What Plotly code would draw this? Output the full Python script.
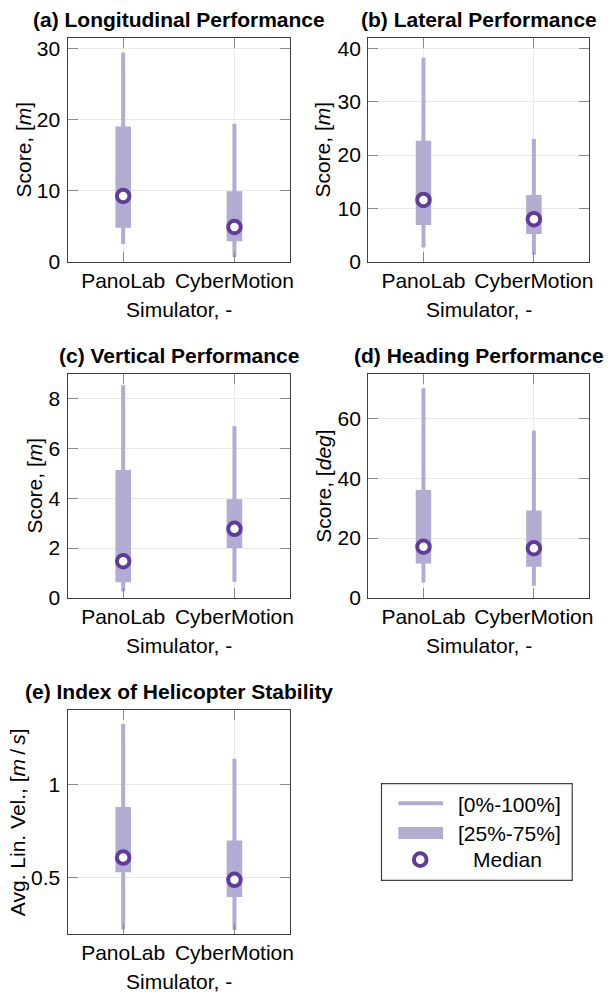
import plotly.graph_objects as go

# ---------------- data ----------------
simulators = ["PanoLab", "CyberMotion"]

# (a) Longitudinal Performance, Score [m]
long_min = [2.5, 0.65]
long_q1 = [4.8, 2.9]
long_med = [9.25, 4.9]
long_q3 = [19.0, 9.9]
long_max = [29.4, 19.4]

# (b) Lateral Performance, Score [m]
lat_min = [2.7, 1.35]
lat_q1 = [6.9, 5.2]
lat_med = [11.6, 8.0]
lat_q3 = [22.7, 12.5]
lat_max = [38.2, 23.0]

# (c) Vertical Performance, Score [m]
vert_min = [0.25, 0.64]
vert_q1 = [0.62, 2.0]
vert_med = [1.47, 2.77]
vert_q3 = [5.13, 3.96]
vert_max = [8.54, 6.89]

# (d) Heading Performance, Score [deg]
head_min = [5.1, 4.0]
head_q1 = [11.5, 10.4]
head_med = [17.1, 16.6]
head_q3 = [36.1, 29.2]
head_max = [70.2, 56.0]

# (e) Index of Helicopter Stability, Avg. Lin. Vel. [m/s]
stab_min = [0.223, 0.22]
stab_q1 = [0.530, 0.397]
stab_med = [0.608, 0.489]
stab_q3 = [0.879, 0.699]
stab_max = [1.324, 1.138]

titles = [
    "(a) Longitudinal Performance",
    "(b) Lateral Performance",
    "(c) Vertical Performance",
    "(d) Heading Performance",
    "(e) Index of Helicopter Stability",
]
ylabels = [
    "Score, [<i>m</i>]",
    "Score, [<i>m</i>]",
    "Score, [<i>m</i>]",
    "Score, [<i>deg</i>]",
    "Avg. Lin. Vel., [<i>m</i>\u2009/\u2009<i>s</i>]",
]
xlabel = "Simulator, -"
legend_labels = ["[0%-100%]", "[25%-75%]", "Median"]

# ---------------- style ----------------
W, H = 608, 1007
LIGHT = "#b2abd2"
DARK = "#5e3c99"
FONT = "Liberation Sans, Arial, Helvetica, sans-serif"
FS = 21

panels = [
    dict(mn=long_min, q1=long_q1, md=long_med, q3=long_q3, mx=long_max,
         rng=[0, 31.5], dtick=10, px=(68, 292), py=(37, 264), ylab_x=24),
    dict(mn=lat_min, q1=lat_q1, md=lat_med, q3=lat_q3, mx=lat_max,
         rng=[0, 42], dtick=10, px=(370.7, 593), py=(37, 264), ylab_x=325),
    dict(mn=vert_min, q1=vert_q1, md=vert_med, q3=vert_q3, mx=vert_max,
         rng=[0, 9], dtick=2, px=(68, 292), py=(377.3, 604), ylab_x=35),
    dict(mn=head_min, q1=head_q1, md=head_med, q3=head_q3, mx=head_max,
         rng=[0, 75], dtick=20, px=(370.7, 593), py=(377.3, 604), ylab_x=326),
    dict(mn=stab_min, q1=stab_q1, md=stab_med, q3=stab_q3, mx=stab_max,
         rng=[0.2, 1.4], dtick=None, px=(68, 292), py=(717.3, 944), ylab_x=17.5),
]

fig = go.Figure()
annotations = []
layout = {}

for i, p in enumerate(panels):
    k = "" if i == 0 else str(i + 1)
    xa, ya = "x" + k, "y" + k
    # whisker (min-max)
    fig.add_trace(go.Bar(
        x=simulators, y=[b - a for a, b in zip(p["mn"], p["mx"])], base=p["mn"],
        width=0.036, marker=dict(color=LIGHT, line=dict(width=0)),
        xaxis=xa, yaxis=ya, hoverinfo="skip"))
    # interquartile box
    fig.add_trace(go.Bar(
        x=simulators, y=[b - a for a, b in zip(p["q1"], p["q3"])], base=p["q1"],
        width=0.14, marker=dict(color=LIGHT, line=dict(width=0)),
        xaxis=xa, yaxis=ya, hoverinfo="skip"))
    # median
    fig.add_trace(go.Scatter(
        x=simulators, y=p["md"], mode="markers",
        marker=dict(symbol="circle", size=12.5, color="white",
                    line=dict(color=DARK, width=4)),
        xaxis=xa, yaxis=ya, hoverinfo="skip"))

    x0, x1 = p["px"]
    y0, y1 = p["py"]
    common = dict(
        showline=True, linecolor="#404040", linewidth=1.3, mirror="allticks",
        ticks="inside", ticklen=10, tickcolor="#8a8a8a", tickwidth=1,
        showgrid=True, gridcolor="#e8e8e8", gridwidth=1.2, zeroline=False,
        tickfont=dict(family=FONT, size=FS, color="black"),
    )
    layout["xaxis" + k] = dict(
        common, type="category", categoryorder="array", categoryarray=simulators,
        range=[-0.5, 1.5], domain=[x0 / W, x1 / W], anchor=ya,
        ticklabelstandoff=0)
    yax = dict(common, range=p["rng"], domain=[1 - y1 / H, 1 - y0 / H],
               anchor=xa, ticklabelstandoff=2)
    if p["dtick"] is not None:
        yax.update(tickmode="linear", tick0=0, dtick=p["dtick"])
    else:
        yax.update(tickmode="array", tickvals=[0.5, 1], ticktext=["0.5", "1"])
    layout["yaxis" + k] = yax

    cx = (x0 + x1) / 2 / W
    # panel title
    annotations.append(dict(
        text="<b>" + titles[i] + "</b>", x=cx, y=1 - (y0 - 18.5) / H,
        xref="paper", yref="paper", xanchor="center", yanchor="middle",
        showarrow=False, font=dict(family=FONT, size=FS, color="black")))
    # x label
    annotations.append(dict(
        text=xlabel, x=cx, y=1 - (y1 + 48) / H,
        xref="paper", yref="paper", xanchor="center", yanchor="middle",
        showarrow=False, font=dict(family=FONT, size=FS, color="black")))
    # y label
    annotations.append(dict(
        text=ylabels[i], x=p["ylab_x"] / W, y=1 - (y0 + y1) / 2 / H,
        xref="paper", yref="paper", xanchor="center", yanchor="middle",
        textangle=-90, showarrow=False,
        font=dict(family=FONT, size=FS, color="black")))

# ---------------- manual legend ----------------
def px2x(v):
    return v / W

def px2y(v):
    return 1 - v / H

shapes = [
    dict(type="rect", xref="paper", yref="paper",
         x0=px2x(384), x1=px2x(576), y0=px2y(890), y1=px2y(792),
         line=dict(color="#404040", width=1.2), fillcolor="white", layer="below"),
    dict(type="line", xref="paper", yref="paper",
         x0=px2x(401), x1=px2x(446), y0=px2y(812), y1=px2y(812),
         line=dict(color=LIGHT, width=4)),
    dict(type="rect", xref="paper", yref="paper",
         x0=px2x(401), x1=px2x(446), y0=px2y(848), y1=px2y(836),
         line=dict(width=0), fillcolor=LIGHT),
    dict(type="circle", xref="paper", yref="paper",
         xsizemode="pixel", ysizemode="pixel",
         xanchor=px2x(423), yanchor=px2y(869),
         x0=-6.3, x1=6.3, y0=-6.3, y1=6.3,
         line=dict(color=DARK, width=4), fillcolor="white"),
]
annotations += [
    dict(text=legend_labels[0], x=px2x(459), y=px2y(813), xref="paper", yref="paper",
         xanchor="left", yanchor="middle", showarrow=False,
         font=dict(family=FONT, size=FS, color="black")),
    dict(text=legend_labels[1], x=px2x(459), y=px2y(843), xref="paper", yref="paper",
         xanchor="left", yanchor="middle", showarrow=False,
         font=dict(family=FONT, size=FS, color="black")),
    dict(text=legend_labels[2], x=px2x(511), y=px2y(869), xref="paper", yref="paper",
         xanchor="center", yanchor="middle", showarrow=False,
         font=dict(family=FONT, size=FS, color="black")),
]

fig.update_layout(
    width=W, height=H, margin=dict(l=0, r=0, t=0, b=0),
    paper_bgcolor="white", plot_bgcolor="white",
    showlegend=False, barmode="overlay",
    annotations=annotations, shapes=shapes,
    font=dict(family=FONT, size=FS, color="black"),
    **layout,
)

fig.write_html("out.html")
